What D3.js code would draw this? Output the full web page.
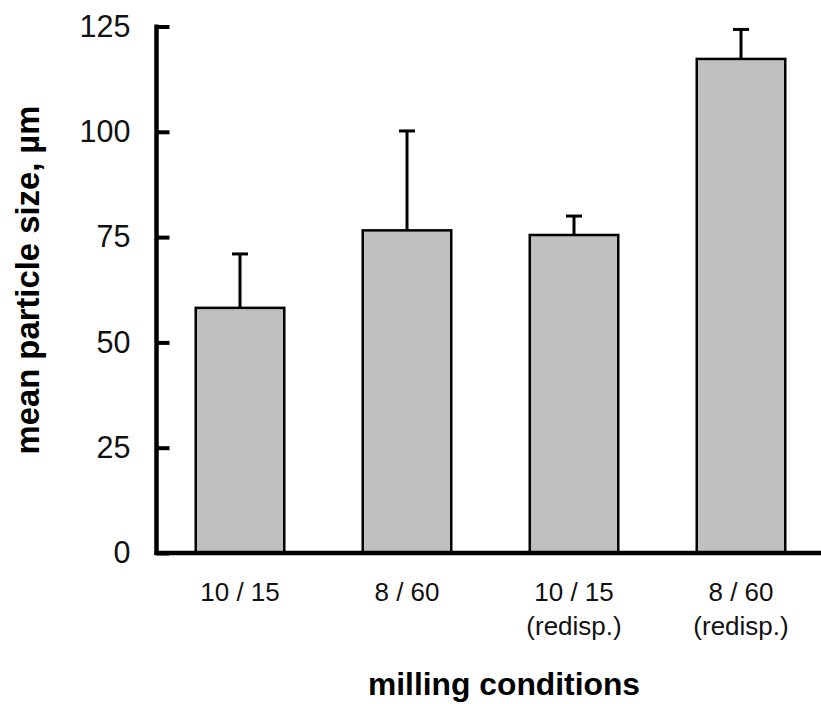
<!DOCTYPE html>
<html>
<head>
<meta charset="utf-8">
<script src="https://cdn.jsdelivr.net/npm/d3@7"></script>
<style>
  html, body { margin: 0; padding: 0; background: #fff; }
  svg { display: block; font-family: Arial, "Liberation Sans", sans-serif; }
</style>
</head>
<body>
<script>
// milling conditions (two-line labels)
const categories = ["10 / 15", "8 / 60", "10 / 15 (redisp.)", "8 / 60 (redisp.)"];
const labelLine1 = ["10 / 15", "8 / 60", "10 / 15", "8 / 60"];
const labelLine2 = ["", "", "(redisp.)", "(redisp.)"];
// mean particle size, µm
const meanSize = [58.2, 76.6, 75.5, 117.3];
// upper error (std dev)
const errUp = [12.8, 23.6, 4.5, 7.0];
const yTicks = [0, 25, 50, 75, 100, 125];

const width = 821, height = 704;
const axisX = 156.5, axisY = 553;

const svg = d3.select("body").append("svg")
    .attr("width", width)
    .attr("height", height);

const x = d3.scaleBand()
    .domain(categories)
    .range([axisX, axisX + 668])
    .paddingInner(0.47)
    .paddingOuter(0.235);

const y = d3.scaleLinear()
    .domain([0, 125])
    .range([axisY, 26.5]);

// bars
svg.append("g")
  .selectAll("rect")
  .data(categories)
  .enter().append("rect")
    .attr("x", d => x(d))
    .attr("y", (d, i) => y(meanSize[i]))
    .attr("width", x.bandwidth())
    .attr("height", (d, i) => y(0) - y(meanSize[i]))
    .style("fill", "#c0c0c0")
    .style("stroke", "#000")
    .style("stroke-width", 2.5);

// error bars (upper only)
const err = svg.append("g")
    .style("stroke", "#000")
    .style("stroke-width", 3);

err.selectAll("line.stem")
  .data(categories)
  .enter().append("line")
    .attr("class", "stem")
    .attr("x1", d => x(d) + x.bandwidth() / 2)
    .attr("x2", d => x(d) + x.bandwidth() / 2)
    .attr("y1", (d, i) => y(meanSize[i]))
    .attr("y2", (d, i) => y(meanSize[i] + errUp[i]));

err.selectAll("line.cap")
  .data(categories)
  .enter().append("line")
    .attr("class", "cap")
    .attr("x1", d => x(d) + x.bandwidth() / 2 - 8)
    .attr("x2", d => x(d) + x.bandwidth() / 2 + 8)
    .attr("y1", (d, i) => y(meanSize[i] + errUp[i]))
    .attr("y2", (d, i) => y(meanSize[i] + errUp[i]));

// y axis
const yAxis = svg.append("g")
    .attr("transform", `translate(${axisX},0)`)
    .call(d3.axisLeft(y).tickValues(yTicks).tickSize(-13).tickPadding(26));
yAxis.select(".domain").remove();
yAxis.selectAll(".tick line").style("stroke", "#000").style("stroke-width", 4);
yAxis.selectAll(".tick text")
    .style("font-size", "30.5px")
    .style("font-family", "Arial, 'Liberation Sans', sans-serif")
    .attr("fill", "#111");

svg.append("line")
    .attr("x1", axisX).attr("x2", axisX)
    .attr("y1", y(125) - 2).attr("y2", axisY + 2)
    .style("stroke", "#000").style("stroke-width", 4.5);

// x axis line
svg.append("line")
    .attr("x1", axisX - 2).attr("x2", width)
    .attr("y1", axisY).attr("y2", axisY)
    .style("stroke", "#000").style("stroke-width", 4.5);

// x category labels
const xl = svg.append("g")
    .style("font-size", "26px")
    .attr("fill", "#111")
    .attr("text-anchor", "middle");

xl.selectAll("text.l1")
  .data(categories)
  .enter().append("text")
    .attr("class", "l1")
    .attr("x", d => x(d) + x.bandwidth() / 2)
    .attr("y", 601)
    .text((d, i) => labelLine1[i]);

xl.selectAll("text.l2")
  .data(categories)
  .enter().append("text")
    .attr("class", "l2")
    .attr("x", d => x(d) + x.bandwidth() / 2)
    .attr("y", 635)
    .text((d, i) => labelLine2[i]);

// axis titles
svg.append("text")
    .attr("x", 504)
    .attr("y", 695)
    .attr("text-anchor", "middle")
    .style("font-size", "31.8px")
    .style("font-weight", "bold")
    .text("milling conditions");

svg.append("text")
    .attr("transform", "translate(39,280) rotate(-90)")
    .attr("text-anchor", "middle")
    .style("font-size", "32.8px")
    .style("font-weight", "bold")
    .text("mean particle size, µm");
</script>
</body>
</html>
